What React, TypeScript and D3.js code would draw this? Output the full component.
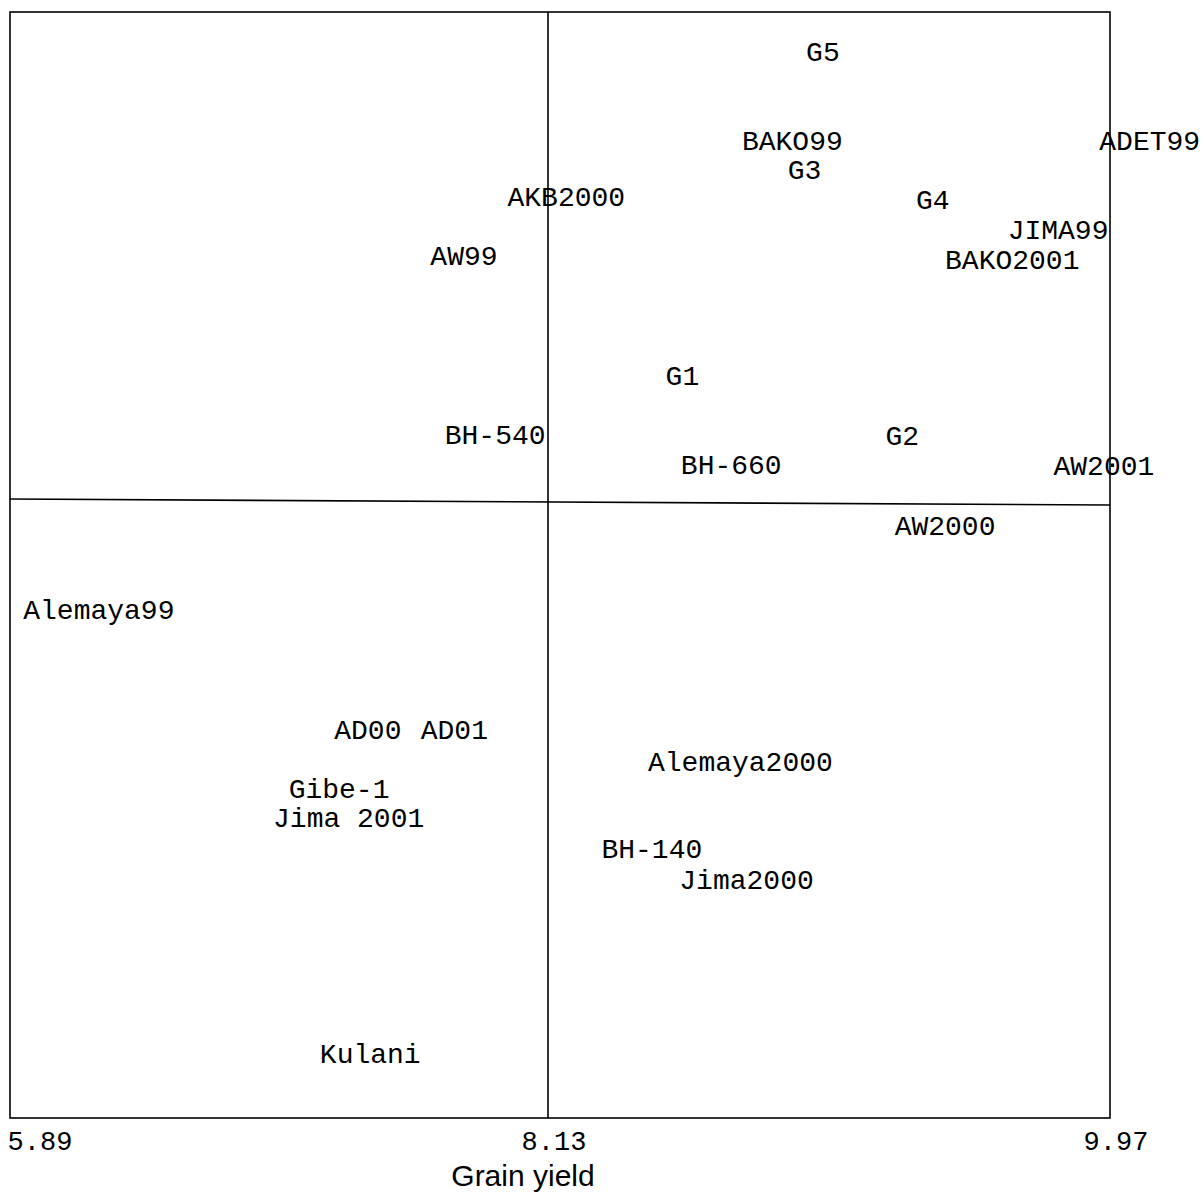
import React from "react";
import * as d3 from "d3";

// x: grain yield (min, mean, max shown as ticks)
const xTicks = [5.89, 8.13, 9.97];
// y: stability score (unlabelled), domain min / mean / max
const yDomain = [-1, 0, 1];

const labels = [
  "G5", "BAKO99", "G3", "ADET99", "AKB2000", "G4", "JIMA99", "BAKO2001",
  "AW99", "G1", "BH-540", "G2", "BH-660", "AW2001", "AW2000", "Alemaya99",
  "AD00", "AD01", "Alemaya2000", "Gibe-1", "Jima 2001", "BH-140", "Jima2000", "Kulani",
];
const yieldValues = [
  9.03, 8.93, 8.97, 10.10, 8.19, 9.39, 9.80, 9.65,
  7.78, 8.57, 7.91, 9.29, 8.73, 9.95, 9.43, 6.26,
  7.38, 7.74, 8.76, 7.26, 7.30, 8.47, 8.78, 7.39,
];
const scoreValues = [
  0.918, 0.736, 0.677, 0.736, 0.622, 0.616, 0.554, 0.493,
  0.501, 0.256, 0.135, 0.133, 0.074, 0.072, -0.041, -0.177,
  -0.371, -0.371, -0.423, -0.467, -0.514, -0.564, -0.614, -0.896,
];

const W = 1204;
const H = 1193;
const left = 10, right = 1110, top = 12, bottom = 1118;

export default function App() {
  const x = d3.scaleLinear().domain(xTicks).range([left, 548, right]);
  const y = d3.scaleLinear().domain(yDomain).range([bottom, 501, top]);
  const mono = "'Liberation Mono', 'Courier New', monospace";
  return (
    <svg width={W} height={H} style={{ position: "absolute", left: 0, top: 0, background: "#fff" }}>
      <rect x={left} y={top} width={right - left} height={bottom - top} fill="none" stroke="#000" strokeWidth={1.6} />
      <line x1={x(xTicks[1])} x2={x(xTicks[1])} y1={top} y2={bottom} stroke="#000" strokeWidth={1.6} />
      <line x1={left} x2={right} y1={y(0) - 2} y2={y(0) + 4} stroke="#000" strokeWidth={1.6} />
      {labels.map((l, i) => (
        <text key={l} x={x(yieldValues[i])} y={y(scoreValues[i])} dy="0.32em" textAnchor="middle"
          fontFamily={mono} fontSize={28} fill="#000">{l}</text>
      ))}
      {xTicks.map((t, i) => (
        <text key={t} x={x(t) + [30, 6, 6][i]} y={1150} textAnchor="middle" fontFamily={mono} fontSize={27} fill="#000">
          {t.toFixed(2)}
        </text>
      ))}
      <text x={523} y={1186} textAnchor="middle" fontFamily="'Liberation Sans', Arial, sans-serif" fontSize={30} fill="#000">
        Grain yield
      </text>
    </svg>
  );
}
